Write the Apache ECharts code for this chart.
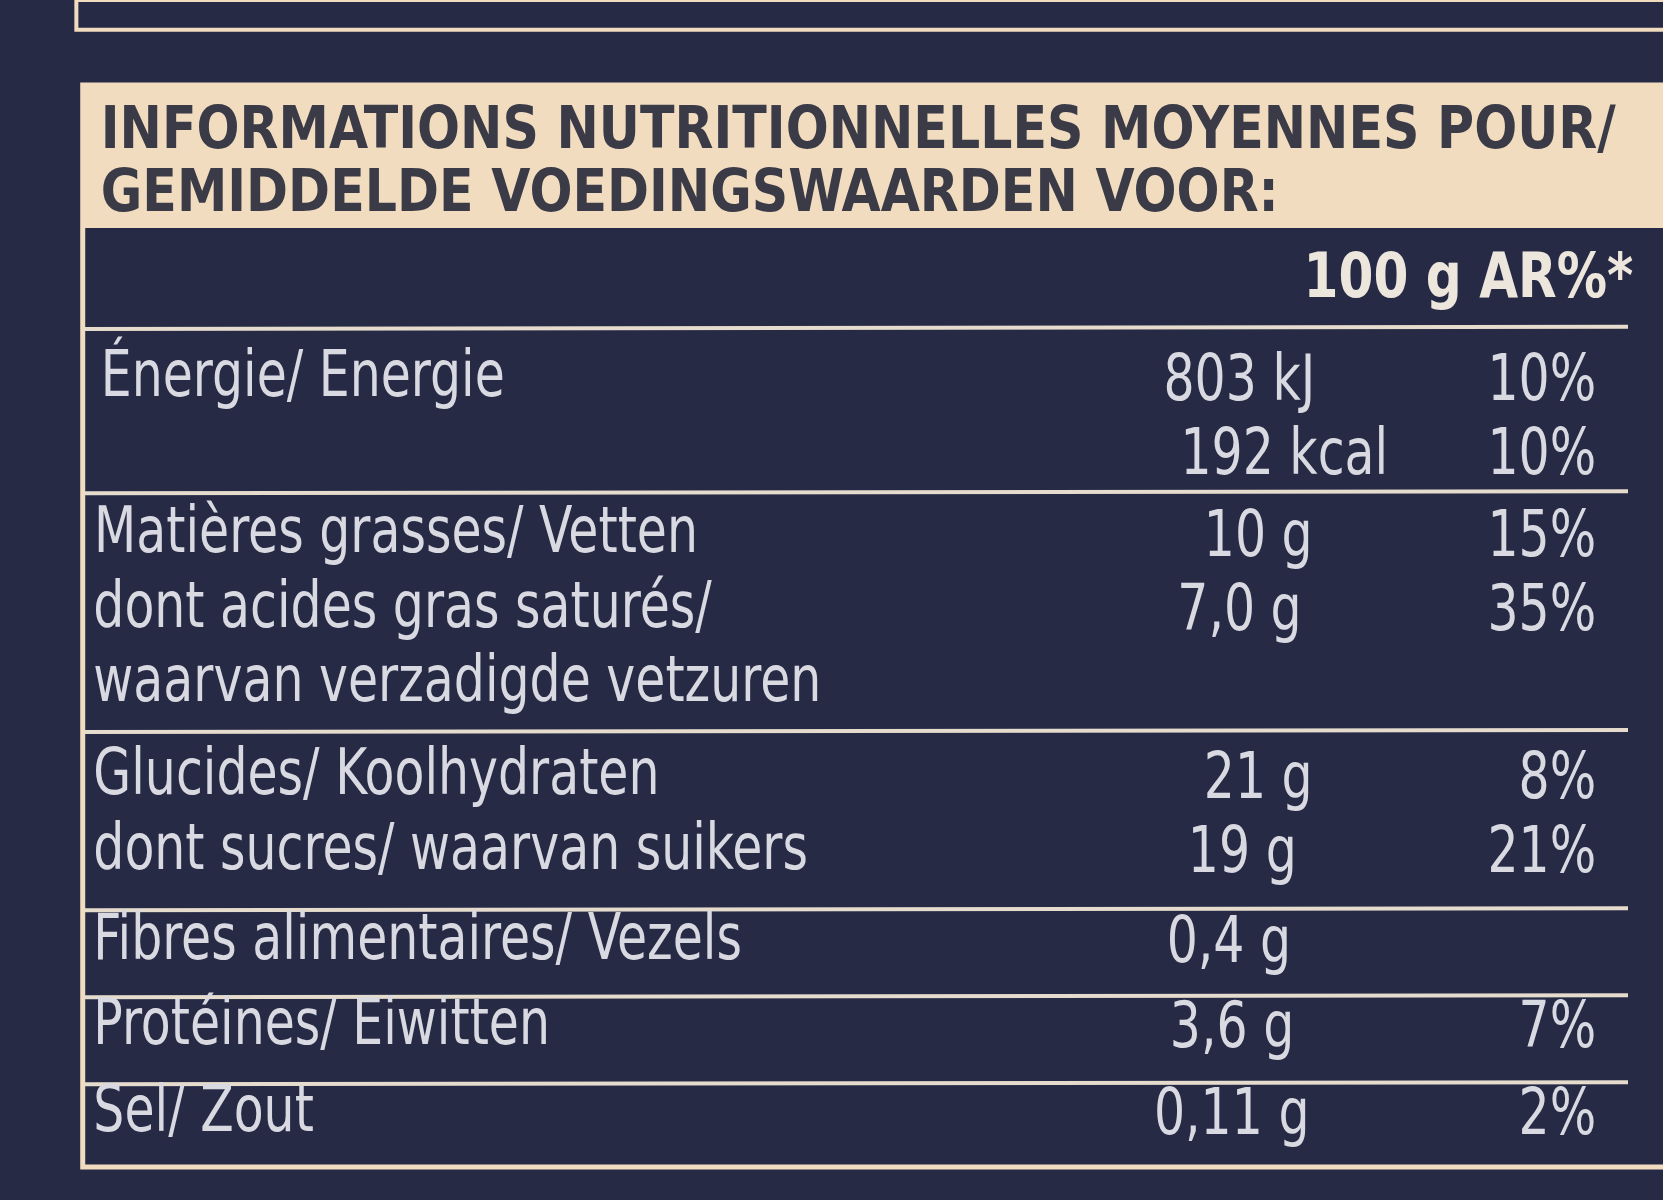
<!DOCTYPE html>
<html>
<head>
<meta charset="utf-8">
<script src="https://cdn.jsdelivr.net/npm/echarts@6/dist/echarts.min.js"></script>
<style>html,body{margin:0;background:#272a45;}#chart{width:1663px;height:1200px;}</style>
</head>
<body>
<div id="chart"></div>
<script>
// table content
const header = ['INFORMATIONS NUTRITIONNELLES MOYENNES POUR/', 'GEMIDDELDE VOEDINGSWAARDEN VOOR:'];
const columns = '100 g AR%*';
const labels = ['Énergie/ Energie', '', 'Matières grasses/ Vetten', 'dont acides gras saturés/',
  'waarvan verzadigde vetzuren', 'Glucides/ Koolhydraten', 'dont sucres/ waarvan suikers',
  'Fibres alimentaires/ Vezels', 'Protéines/ Eiwitten', 'Sel/ Zout'];
const quantities = ['803 kJ', '192 kcal', '10 g', '7,0 g', '', '21 g', '19 g', '0,4 g', '3,6 g', '0,11 g'];
const percents = ['10%', '10%', '15%', '35%', '', '8%', '21%', '', '7%', '2%'];
const rowY = [358, 428, 505, 575, 645, 733, 803, 888, 968, 1050];
const qtyX = [1097, 1113, 1135, 1110, 0, 1135, 1120, 1100, 1103, 1088];
const ruleY = [310, 465, 690, 858, 940, 1022];

const sx = 1663 / 1568, sy = 1200 / 1131;
const X = v => v * sx, Y = v => v * sy;
const font = '"Liberation Sans Narrow","DejaVu Sans Condensed",sans-serif';
const light = '#d9d9e2', beige = '#f2dcc0';
const narrow = 0.85;

const g = [];
g.push({type: 'rect', shape: {x: X(72), y: 0, width: X(1500), height: Y(28)},
  style: {fill: 'none', stroke: beige, lineWidth: 4}});
g.push({type: 'rect', shape: {x: X(78), y: Y(80), width: X(1500), height: Y(1020)},
  style: {fill: 'none', stroke: beige, lineWidth: 5}});
g.push({type: 'rect', shape: {x: X(78), y: Y(80), width: X(1500), height: Y(135)},
  style: {fill: beige}});
header.forEach((t, i) => g.push({type: 'text', x: X(95), y: Y(125 + i * 60), scaleX: 0.97,
  style: {text: t, fill: '#3b3b47', font: 'bold 58px ' + font, verticalAlign: 'middle'}}));
g.push({type: 'text', x: X(1540), y: Y(265), scaleX: 0.9, style: {text: columns, fill: '#ece6dc',
  font: 'bold 62px ' + font, align: 'right', verticalAlign: 'middle'}});
ruleY.forEach(y => g.push({type: 'line', shape: {x1: X(80), y1: Y(y), x2: X(1535), y2: Y(y - 2)},
  style: {stroke: '#e6dccd', lineWidth: 4}}));
labels.forEach((t, i) => {
  const y = rowY[i];
  const lx = Math.max(88, 95 - (y - 358) * 0.043);
  if (t) g.push({type: 'text', x: X(lx), y: Y(y), scaleX: narrow, style: {text: t, fill: light,
    font: '64px ' + font, verticalAlign: 'middle'}});
  if (quantities[i]) g.push({type: 'text', x: X(qtyX[i]), y: Y(y + 3), scaleX: narrow,
    style: {text: quantities[i], fill: light, font: '64px ' + font, verticalAlign: 'middle'}});
  if (percents[i]) g.push({type: 'text', x: X(1505), y: Y(y + 3), scaleX: narrow,
    style: {text: percents[i], fill: light, font: '64px ' + font, align: 'right', verticalAlign: 'middle'}});
});

const chart = echarts.init(document.getElementById('chart'));
chart.setOption({backgroundColor: '#272a45', graphic: g});
</script>
</body>
</html>
